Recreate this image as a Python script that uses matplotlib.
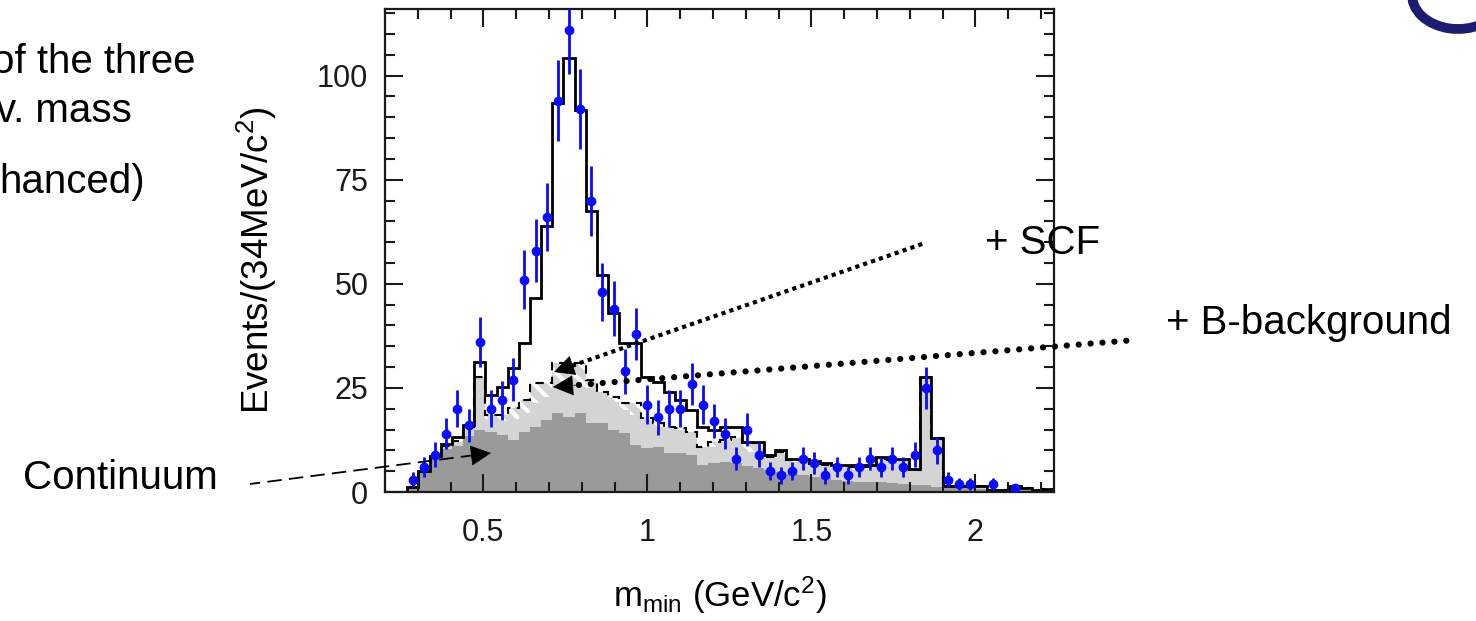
import matplotlib
matplotlib.use('Agg')
import matplotlib.pyplot as plt
import numpy as np
from matplotlib.lines import Line2D
from matplotlib.patches import Arc
from matplotlib.ticker import MultipleLocator

plt.rcParams['font.family'] = ['Liberation Sans', 'DejaVu Sans']
plt.rcParams['mathtext.fontset'] = 'custom'
plt.rcParams['mathtext.rm'] = 'Liberation Sans'
plt.rcParams['mathtext.it'] = 'Liberation Sans:italic'
plt.rcParams['hatch.linewidth'] = 3.0

# binning: 60 bins of 34 MeV from 0.2 GeV
lo, bw, nbins = 0.2, 0.034, 60
edges = lo + bw*np.arange(nbins + 1)
centres = 0.5*(edges[1:] + edges[:-1])

# data points (events per bin) and their error bars
data = [0, 0, 3, 6, 9, 14, 20, 16, 36, 20,
        22, 27, 51, 58, 66, 94, 111, 92, 70, 48,
        44, 29, 38, 21, 18, 20, 20, 26, 21, 17,
        14, 8, 15, 9, 5, 4, 5, 8, 7, 4,
        6, 4, 6, 8, 6, 8, 6, 9, 25, 10,
        3, 2, 2, 0, 2, 0, 1, 0, 0, 0]
data_err = [0, 0, 1.7, 2.4, 3.0, 3.7, 4.5, 4.0, 6.0, 4.5,
            4.7, 5.2, 7.1, 7.6, 8.1, 9.7, 10.5, 9.6, 8.4, 6.9,
            6.6, 5.4, 6.2, 4.6, 4.2, 4.5, 4.5, 5.1, 4.6, 4.1,
            3.7, 2.8, 3.9, 3.0, 2.2, 2.0, 2.2, 2.8, 2.6, 2.0,
            2.4, 2.0, 2.4, 2.8, 2.4, 2.8, 2.4, 3.0, 5.0, 3.2,
            1.7, 1.4, 1.4, 0, 1.4, 0, 1.0, 0, 0, 0]

# stacked fit components (cumulative)
continuum = [0, 0, 1.0, 5.0, 8.3, 10.3, 11.0, 13.5, 14.9, 14.5,
             13.7, 12.5, 14.3, 15.7, 17.3, 18.9, 18.1, 18.9, 16.5, 16.5,
             14.9, 14.1, 11.3, 10.5, 10.9, 9.3, 9.3, 8.9, 6.5, 6.9,
             7.3, 7.0, 6.3, 5.8, 5.3, 4.8, 4.3, 4.0, 3.7, 3.5,
             3.0, 2.7, 2.5, 2.5, 2.3, 2.1, 2.0, 1.8, 1.6, 1.3,
             1.0, 0.9, 0.9, 0.8, 0.4, 0.4, 0.5, 0.5, 0.3, 0.4]
plus_bbkg = [0, 0, 1.3, 5.1, 8.5, 11.0, 12.0, 15.0, 27.3, 17.5,
             17.0, 17.5, 19.0, 21.3, 22.9, 26.5, 26.5, 25.3, 24.9, 23.7,
             21.7, 19.7, 18.5, 16.5, 15.7, 15.7, 14.9, 14.5, 10.5, 10.9,
             12.0, 12.9, 9.7, 9.7, 8.1, 8.1, 7.3, 7.3, 6.3, 6.1,
             5.7, 5.7, 5.3, 5.3, 7.3, 7.3, 7.3, 5.3, 27.3, 12.9,
             1.4, 1.4, 1.4, 1.4, 0.5, 0.5, 1.4, 1.0, 0.4, 0.8]
plus_scf = [0, 0, 1.3, 5.1, 8.5, 11.0, 12.3, 15.5, 27.6, 18.5,
            18.5, 20.1, 22.1, 26.2, 26.2, 30.9, 30.9, 30.9, 26.9, 24.1,
            22.9, 21.3, 21.3, 17.7, 16.5, 15.7, 15.3, 14.5, 10.9, 12.1,
            12.5, 13.3, 11.7, 11.7, 8.5, 9.7, 7.6, 7.6, 6.7, 6.5,
            6.1, 6.1, 6.1, 6.1, 8.0, 7.8, 7.8, 5.4, 27.5, 13.0,
            1.4, 1.4, 1.4, 1.4, 0.5, 0.5, 1.4, 1.0, 0.4, 0.8]
total = [0, 0, 1.3, 5.1, 8.7, 11.5, 13.1, 16.1, 31.2, 23.3,
         25.1, 29.7, 35.8, 46.6, 64.0, 93.4, 104.2, 91.8, 67.4, 52.0,
         43.0, 35.8, 35.7, 27.7, 26.5, 24.1, 22.1, 19.7, 15.7, 15.0,
         15.7, 15.7, 12.1, 12.0, 8.9, 10.1, 7.9, 7.9, 7.5, 6.9,
         6.5, 6.5, 6.5, 6.5, 8.3, 8.0, 8.0, 5.5, 27.6, 13.0,
         1.4, 1.4, 1.4, 1.4, 0.5, 0.5, 1.4, 1.0, 0.4, 0.8]

W, H = 1476, 621
fig = plt.figure(figsize=(W/100, H/100), dpi=100)
ax = fig.add_axes([385/W, 1 - 492/H, (1054 - 385)/W, (492 - 9)/H])


def fp(x, y):
    # image pixel (from top left) -> figure fraction
    return (x/W, 1 - y/H)


dark = '#9a9a9a'
light = '#d4d4d4'

ax.stairs(plus_scf, edges, baseline=plus_bbkg, fill=True, color=light, lw=0)
ax.stairs(plus_scf, edges, baseline=plus_bbkg, fill=True, facecolor='none',
          edgecolor='white', hatch='\\\\', lw=0)
ax.stairs(plus_bbkg, edges, fill=True, color=light, lw=0)
ax.stairs(continuum, edges, fill=True, color=dark, lw=0)
ax.stairs(plus_scf, edges, color='black', lw=1.5, linestyle=(0, (4, 3)))
ax.stairs(total, edges, color='black', lw=2.0)

d = np.array(data, dtype=float)
e = np.array(data_err)
m = d > 0
ax.errorbar(centres[m], d[m], yerr=e[m], fmt='o', color='#0a0aff', ms=6,
            elinewidth=2, capsize=0, zorder=5)

ax.set_xlim(0.2, 2.24)
ax.set_ylim(0, 116)
ax.set_xticks([0.5, 1, 1.5, 2])
ax.set_xticklabels(['0.5', '1', '1.5', '2'])
ax.set_yticks([0, 25, 50, 75, 100])
ax.xaxis.set_minor_locator(MultipleLocator(0.1))
ax.yaxis.set_minor_locator(MultipleLocator(5))
ax.tick_params(which='both', direction='in', top=True, right=True, width=1.5,
               labelsize=22, colors='#1a1a1a')
ax.tick_params(which='major', length=13)
ax.tick_params(which='minor', length=7)
ax.tick_params(axis='x', pad=19)
ax.tick_params(axis='y', pad=12)
for s in ax.spines.values():
    s.set_linewidth(1.6)
    s.set_color('#1a1a1a')
ax.set_ylabel('Events/(34MeV/c$^{2}$)', fontsize=26.5)
ax.yaxis.set_label_coords(-0.158, 0.48)
ax.set_xlabel('m$_{\\mathrm{min}}$ (GeV/c$^{2}$)', fontsize=25, labelpad=19)

# annotations: dotted / dashed pointers from slide text
scf_tip, scf_tail = (554, 372), (925, 243)
bb_tip, bb_tail = (553, 387), (1135, 340)
cont_tip, cont_tail = (491, 453), (250, 484)


def pointer(tip, tail, back, **kw):
    tx, ty = tip
    ux, uy = tail[0] - tx, tail[1] - ty
    n = np.hypot(ux, uy)
    sx, sy = tx + ux/n*back, ty + uy/n*back
    a, b = fp(sx, sy), fp(*tail)
    fig.add_artist(Line2D([a[0], b[0]], [a[1], b[1]], color='black', **kw))
    ax.annotate('', xy=fp(*tip), xytext=fp(tx + ux/n*(back + 2), ty + uy/n*(back + 2)),
                xycoords='figure fraction', textcoords='figure fraction',
                arrowprops=dict(arrowstyle='-|>', color='black', lw=0.5,
                                mutation_scale=34, shrinkA=0, shrinkB=0))


pointer(scf_tip, scf_tail, 19, lw=3, linestyle=(0, (1, 1)), dash_capstyle='butt')
pointer(bb_tip, bb_tail, 26, lw=4.5, linestyle=(0, (0.01, 1.9)), dash_capstyle='round')
pointer(cont_tip, cont_tail, 16, lw=1.3, linestyle=(0, (8, 4)))

tsize = 29
fig.text(*fp(985, 254), '+ SCF', fontsize=tsize, va='baseline', ha='left')
fig.text(*fp(1166, 334), '+ B-background', fontsize=tsize, va='baseline', ha='left')
fig.text(*fp(218, 489), 'Continuum', fontsize=tsize, va='baseline', ha='right')
fig.text(*fp(195, 73), 'of the three', fontsize=tsize, va='baseline', ha='right')
fig.text(*fp(132, 122), 'v. mass', fontsize=tsize, va='baseline', ha='right')
fig.text(*fp(145, 193), 'hanced)', fontsize=tsize, va='baseline', ha='right')

# corner of a logo cut by the slide edge
c = fp(1458, -5)
fig.add_artist(Arc(c, 92/W, 68/H, theta1=175, theta2=330, lw=7,
                   color='#1c1c72', transform=fig.transFigure))

fig.savefig('out.png', dpi=100)
